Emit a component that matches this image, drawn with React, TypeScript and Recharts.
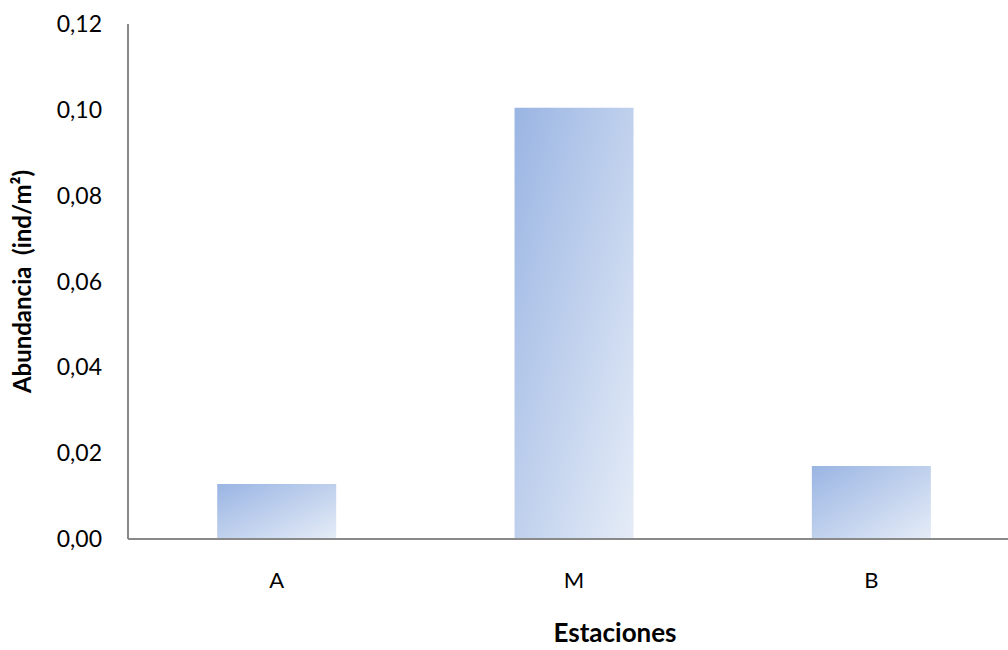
import { BarChart, Bar, XAxis, YAxis, Label } from 'recharts'

const estaciones = ['A', 'M', 'B']
const abundancia = [0.0128, 0.1005, 0.017]
const yTicks = [0, 0.02, 0.04, 0.06, 0.08, 0.1, 0.12]

const data = estaciones.map((name, i) => ({ name, value: abundancia[i] }))

const FONT = 'Lato, "Open Sans", sans-serif'
const AXIS = '#898989'

function fmtY(n: number) {
  return n.toFixed(2).replace('.', ',')
}

type Box = { x: number; y: number; width: number; height: number }

const YTitle = ({ viewBox }: { viewBox?: Box }) => {
  if (!viewBox) return null
  const cx = 21
  const cy = viewBox.y + viewBox.height / 2
  return (
    <text
      x={cx}
      y={cy}
      transform={`rotate(-90 ${cx} ${cy})`}
      textAnchor="middle"
      dominantBaseline="central"
      fontFamily={FONT}
      fontWeight={700}
      fontSize={24}
      fill="#000"
      style={{ whiteSpace: 'pre' }}
    >
      Abundancia  (ind/m²)
    </text>
  )
}

const XTitle = ({ viewBox }: { viewBox?: Box }) => {
  if (!viewBox) return null
  return (
    <text
      x={615}
      y={632}
      textAnchor="middle"
      dominantBaseline="central"
      fontFamily={FONT}
      fontWeight={700}
      fontSize={26}
      fill="#000"
    >
      Estaciones
    </text>
  )
}

export default function App() {
  return (
    <div style={{ position: 'absolute', left: 0, top: 0, width: 1008, height: 650, overflow: 'hidden', background: '#fff' }}>
      <BarChart
        width={1020}
        height={650}
        data={data}
        margin={{ top: 24, right: 0, left: 0, bottom: 0 }}
        barCategoryGap="30%"
      >
        <defs>
          <linearGradient id="barFill" x1="0" y1="0" x2="1" y2="1">
            <stop offset="0%" stopColor="#9ab5e3" />
            <stop offset="100%" stopColor="#e5ecf7" />
          </linearGradient>
        </defs>
        <XAxis
          dataKey="name"
          height={111}
          tickLine={false}
          axisLine={{ stroke: AXIS, strokeWidth: 2 }}
          tickMargin={27}
          tick={{ fill: '#000', fontSize: 22, fontFamily: FONT }}
        >
          <Label content={<XTitle />} />
        </XAxis>
        <YAxis
          width={128}
          domain={[0, 0.12]}
          ticks={yTicks}
          tickFormatter={fmtY}
          tickLine={false}
          axisLine={{ stroke: AXIS, strokeWidth: 2 }}
          tickMargin={20}
          tick={{ fill: '#000', fontSize: 23, fontFamily: FONT }}
        >
          <Label content={<YTitle />} />
        </YAxis>
        <Bar dataKey="value" fill="url(#barFill)" isAnimationActive={false} />
      </BarChart>
    </div>
  )
}
